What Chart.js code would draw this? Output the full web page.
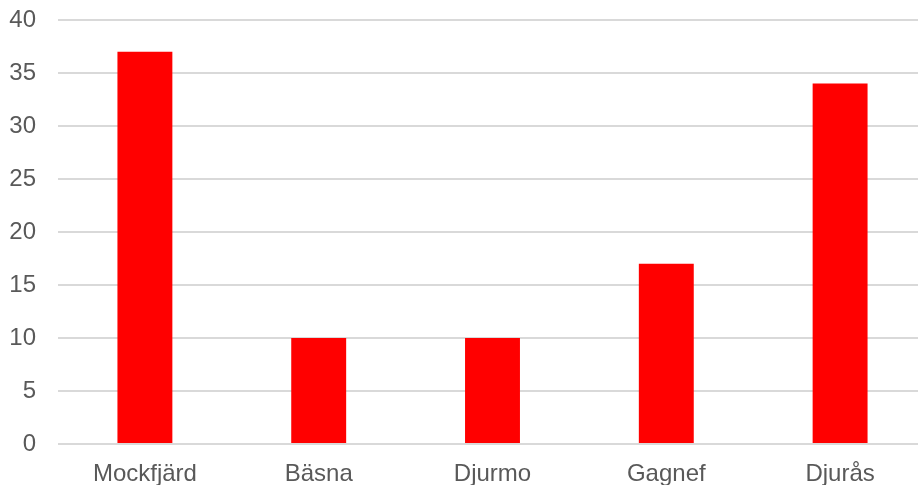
<!DOCTYPE html>
<html>
<head>
<meta charset="utf-8">
<script src="https://cdn.jsdelivr.net/npm/chart.js@4.4.1/dist/chart.umd.min.js"></script>
<style>
    html, body { margin: 0; padding: 0; background: #fff; overflow: hidden; }
    #wrap { position: relative; width: 927px; height: 485px; }
</style>
</head>
<body>
<div id="wrap"><canvas id="stapel"></canvas></div>
<script>
const orter = ['Mockfjärd', 'Bäsna', 'Djurmo', 'Gagnef', 'Djurås']
const antal = [37, 10, 10, 17, 34]
const yMax = 40
const ySteg = 5

Chart.defaults.font.family = '"Liberation Sans", Arial, sans-serif'
Chart.defaults.font.size = 24
Chart.defaults.color = '#595959'

const ctx = document.getElementById('stapel').getContext('2d')
const myChart = new Chart(ctx, {
    type: 'bar',
    data: {
        labels: orter,
        datasets: [{
            data: antal,
            backgroundColor: '#ff0000',
            borderWidth: 0,
            barPercentage: 0.316,
            categoryPercentage: 1
        }]
    },
    options: {
        responsive: true,
        maintainAspectRatio: false,
        animation: false,
        layout: {
            padding: { left: 0, top: 20, right: 0, bottom: 0 }
        },
        plugins: {
            legend: { display: false },
            tooltip: { enabled: false }
        },
        scales: {
            x: {
                grid: { display: false },
                border: { display: false },
                ticks: { padding: 8 },
                afterFit: (scale) => {
                    scale.height = 41
                    scale.paddingLeft = 0
                    scale.paddingRight = 0
                }
            },
            y: {
                min: 0,
                max: yMax,
                ticks: { stepSize: ySteg, padding: 22 },
                grid: {
                    color: '#d9d9d9',
                    lineWidth: 2,
                    drawTicks: false
                },
                border: { display: false },
                afterFit: (scale) => {
                    scale.width = 58
                    scale.paddingTop = 0
                    scale.paddingBottom = 0
                }
            }
        }
    }
});
</script>
</body>
</html>
